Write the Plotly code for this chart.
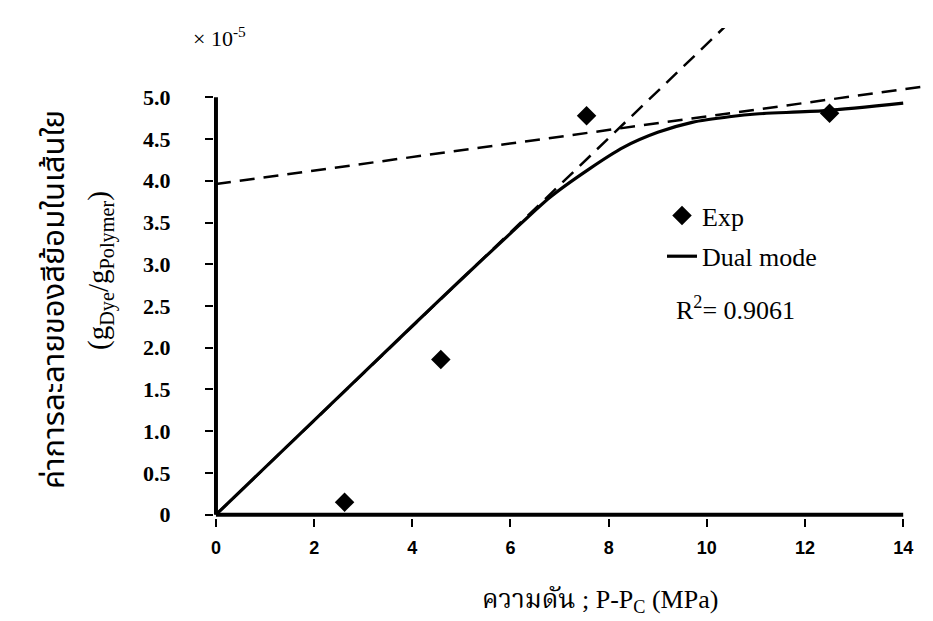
import plotly.graph_objects as go

# ---------------- data ----------------
exp_x = [2.62, 4.58, 7.55, 12.5]
exp_y = [0.15, 1.86, 4.78, 4.81]

dual_x = [0, 2, 4, 5, 6, 6.8, 7.6, 8.3, 9.0, 9.7, 10.5, 11.0, 12.4, 14.0]
dual_y = [0, 1.13, 2.26, 2.82, 3.37, 3.8, 4.14, 4.4, 4.58, 4.7, 4.77, 4.8, 4.84, 4.93]

henry_x = [0, 10.5]
henry_y = [0, 5.92]

lang_x = [0, 14.8]
lang_y = [3.96, 5.16]

x_ticks = [0, 2, 4, 6, 8, 10, 12, 14]
y_ticks = [0, 0.5, 1.0, 1.5, 2.0, 2.5, 3.0, 3.5, 4.0, 4.5, 5.0]
y_ticktext = ["0", "0.5", "1.0", "1.5", "2.0", "2.5", "3.0", "3.5", "4.0", "4.5", "5.0"]

# ---------------- figure ----------------
W, H = 933, 621
ML, MR, MT, MB = 206, 0, 20, 111
PW, PH = W - ML - MR, H - MT - MB

def px(xp):
    return (xp - ML) / PW

def py(yp):
    return (H - MB - yp) / PH

fig = go.Figure()

dash = dict(color="black", width=2.5, dash="15px,9px")
fig.add_trace(go.Scatter(x=henry_x, y=henry_y, mode="lines", line=dash,
                         showlegend=False, hoverinfo="skip"))
fig.add_trace(go.Scatter(x=lang_x, y=lang_y, mode="lines", line=dash,
                         showlegend=False, hoverinfo="skip"))
fig.add_trace(go.Scatter(x=exp_x, y=exp_y, mode="markers", name="Exp",
                         marker=dict(symbol="diamond", size=15, color="black"),
                         legendgroup="a"))
fig.add_trace(go.Scatter(x=dual_x, y=dual_y, mode="lines", name="Dual mode",
                         line=dict(color="black", width=3.2, shape="spline", smoothing=0.8),
                         legendgroup="b"))

# axis lines (only over the labelled extent)
fig.add_shape(type="line", x0=0, x1=14, y0=0, y1=0, xref="x", yref="y",
              line=dict(color="black", width=4))
fig.add_shape(type="line", x0=0, x1=0, y0=0, y1=5.0, xref="x", yref="y",
              line=dict(color="black", width=4))

serif = "Liberation Serif, Times New Roman, serif"
thai = "Noto Sans Thai, Noto Serif Thai, Liberation Serif, DejaVu Sans, sans-serif"
thai_serif = "Liberation Serif, Noto Serif Thai, Noto Sans Thai, DejaVu Sans, serif"

fig.update_layout(
    width=W, height=H,
    margin=dict(l=ML, r=MR, t=MT, b=MB, pad=0),
    paper_bgcolor="white", plot_bgcolor="white",
    showlegend=True,
    legend=dict(x=px(654), y=py(184), xanchor="left", yanchor="top",
                font=dict(family=serif, size=26, color="black"),
                bgcolor="rgba(0,0,0,0)", traceorder="grouped",
                tracegroupgap=4, itemwidth=30),
    xaxis=dict(range=[-0.04, 14.77], tickvals=x_ticks, ticks="outside",
               ticklen=8, tickwidth=2, tickcolor="black", showgrid=False,
               zeroline=False, showline=False, ticklabelstandoff=5,
               tickfont=dict(family="Liberation Sans, Arial, sans-serif", size=18,
                             color="black", weight="bold")),
    yaxis=dict(range=[-0.04, 5.83], tickvals=y_ticks, ticktext=y_ticktext,
               ticks="outside", ticklen=8, tickwidth=2, tickcolor="black",
               showgrid=False, zeroline=False, showline=False,
               ticklabelstandoff=30,
               tickfont=dict(family=serif, size=22, color="black", weight="bold")),
)

def note(xp, yp, text, size, family, angle=0, xanchor="center"):
    fig.add_annotation(x=px(xp), y=py(yp), xref="paper", yref="paper",
                       xanchor=xanchor, yanchor="middle", text=text,
                       textangle=angle, showarrow=False,
                       font=dict(family=family, size=size, color="black"))

note(211, 29, "× 10<sup>-5</sup>", 22, serif)
note(46, 292, "ค่าการละลายของสีย้อมในเส้นใย", 31, thai, angle=-90)
note(92, 262, "(g<sub>Dye</sub>/g<sub>Polymer</sub>)", 29, serif, angle=-90)
note(592, 593, "ความดัน ; P-P<sub>C</sub> (MPa)", 26, thai_serif)
note(666, 300, "R<sup>2</sup>= 0.9061", 26, serif, xanchor="left")

fig.write_html("out.html")
